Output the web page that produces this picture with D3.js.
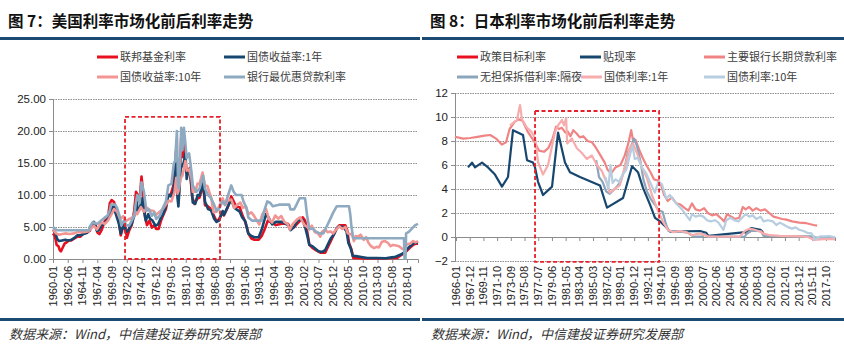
<!DOCTYPE html>
<html><head><meta charset="utf-8">
<script src="https://cdn.jsdelivr.net/npm/d3@7"></script>
<style>body{margin:0;background:#fff}svg{display:block}</style>
</head><body>
<svg id="c" width="844" height="348"></svg>
<script>
// ---------------- DATA ----------------
const usTickLabels = ["1960-01","1962-06","1964-11","1967-04","1969-09","1972-02","1974-07","1976-12","1979-05","1981-10","1984-03","1986-08","1989-01","1991-06","1993-11","1996-04","1998-09","2001-02","2003-07","2005-12","2008-05","2010-10","2013-03","2015-08","2018-01"];
const usYTicks = [0,5,10,15,20,25];
const usSeriesNames = ["联邦基金利率","国债收益率:1年","国债收益率:10年","银行最优惠贷款利率"];
const usFedFunds = [[1960.0,4.0],[1960.3,3.6],[1960.6,2.2],[1960.9,2.0],[1961.1,1.4],[1961.3,1.2],[1961.5,1.6],[1961.7,2.0],[1961.9,2.4],[1962.2,2.6],[1962.6,2.9],[1963.0,2.9],[1963.5,3.2],[1964.0,3.5],[1964.5,3.5],[1965.0,4.0],[1965.5,4.1],[1966.0,4.4],[1966.5,5.4],[1966.9,5.6],[1967.3,4.1],[1967.6,3.9],[1968.0,4.6],[1968.5,6.0],[1969.0,6.3],[1969.3,8.7],[1969.6,9.2],[1970.0,8.9],[1970.4,7.6],[1970.8,5.8],[1971.1,3.7],[1971.5,5.0],[1971.8,5.5],[1972.1,3.3],[1972.5,4.5],[1972.9,5.3],[1973.3,7.5],[1973.6,10.5],[1973.9,10.0],[1974.2,9.0],[1974.5,12.9],[1974.8,10.0],[1975.1,6.5],[1975.4,5.3],[1975.8,6.0],[1976.2,4.9],[1976.6,5.3],[1976.9,4.7],[1977.3,4.7],[1977.7,6.0],[1978.0,6.7],[1978.5,7.8],[1978.9,10.0],[1979.3,10.1],[1979.7,11.4],[1979.9,13.8],[1980.2,17.2],[1980.4,11.0],[1980.55,9.0],[1980.8,13.0],[1981.0,19.0],[1981.3,15.9],[1981.5,19.1],[1981.8,14.0],[1982.0,13.2],[1982.4,14.2],[1982.8,9.7],[1983.2,8.6],[1983.6,9.4],[1984.0,9.6],[1984.6,11.6],[1984.9,8.4],[1985.3,8.3],[1985.8,7.9],[1986.3,6.9],[1986.8,5.9],[1987.2,6.2],[1987.7,7.2],[1988.0,6.8],[1988.6,8.0],[1989.2,9.8],[1989.6,9.0],[1990.0,8.2],[1990.6,8.1],[1991.0,6.9],[1991.5,5.8],[1992.0,4.0],[1992.5,3.2],[1993.0,3.0],[1993.7,3.0],[1994.2,3.6],[1994.7,4.7],[1995.2,6.0],[1995.8,5.7],[1996.5,5.3],[1997.5,5.5],[1998.5,5.5],[1998.9,4.8],[1999.5,5.0],[2000.0,5.5],[2000.5,6.0],[2000.9,6.5],[2001.3,6.0],[2001.7,4.0],[2002.0,2.2],[2002.5,1.75],[2003.2,1.3],[2003.8,1.0],[2004.6,1.0],[2005.0,1.8],[2005.5,2.8],[2006.0,3.8],[2006.5,4.8],[2006.9,5.25],[2007.9,5.25],[2008.2,4.5],[2008.5,2.5],[2008.9,1.5],[2009.2,0.15],[2011.0,0.1],[2013.0,0.1],[2015.0,0.12],[2016.4,0.15],[2016.7,0.4],[2017.1,0.65],[2017.5,0.9],[2018.0,1.3],[2018.5,1.8],[2019.0,2.2],[2019.5,2.4],[2019.8,2.4]];
const usTreasury1Y = [[1960.0,4.6],[1960.4,4.0],[1960.7,3.1],[1961.0,2.8],[1961.5,2.9],[1962.0,3.0],[1962.5,2.9],[1963.0,3.0],[1963.5,3.3],[1964.0,3.7],[1964.5,3.7],[1965.0,3.9],[1965.6,4.1],[1966.0,4.7],[1966.7,5.8],[1967.2,4.4],[1967.5,4.5],[1968.0,5.3],[1968.5,5.6],[1969.0,6.2],[1969.5,7.6],[1969.9,8.2],[1970.3,7.0],[1970.8,5.5],[1971.1,4.0],[1971.6,5.5],[1971.9,4.4],[1972.2,4.3],[1972.6,5.0],[1972.9,5.5],[1973.4,7.0],[1973.7,9.0],[1973.9,7.6],[1974.2,7.8],[1974.6,9.5],[1974.9,7.5],[1975.2,6.0],[1975.6,7.0],[1975.9,6.3],[1976.3,6.0],[1976.8,5.2],[1977.2,5.4],[1977.7,6.5],[1978.0,6.9],[1978.5,8.2],[1978.9,10.0],[1979.3,9.8],[1979.7,10.5],[1979.9,12.0],[1980.2,15.8],[1980.4,9.5],[1980.55,8.2],[1980.9,14.0],[1981.1,14.5],[1981.4,15.0],[1981.7,16.5],[1981.9,12.5],[1982.2,14.0],[1982.5,13.5],[1982.9,8.8],[1983.3,8.6],[1983.7,10.0],[1984.0,9.9],[1984.6,12.0],[1984.9,9.0],[1985.4,7.8],[1985.9,7.6],[1986.4,6.3],[1986.8,5.8],[1987.2,6.0],[1987.8,7.5],[1988.0,6.9],[1988.6,8.1],[1989.2,9.3],[1989.7,8.0],[1990.0,7.8],[1990.6,7.4],[1991.0,6.5],[1991.5,5.9],[1992.0,4.0],[1992.5,3.6],[1993.0,3.4],[1993.7,3.4],[1994.2,4.6],[1994.9,7.0],[1995.3,6.5],[1995.9,5.4],[1996.5,5.8],[1997.5,5.8],[1998.5,5.3],[1998.9,4.5],[1999.5,5.0],[2000.0,5.9],[2000.5,6.2],[2000.9,6.1],[2001.3,5.0],[2001.7,3.5],[2002.0,2.2],[2002.5,2.0],[2003.0,1.6],[2003.5,1.2],[2004.1,1.1],[2004.6,1.4],[2005.0,2.2],[2005.5,3.2],[2006.0,3.8],[2006.5,4.8],[2006.9,5.1],[2007.6,5.0],[2008.1,4.3],[2008.4,2.5],[2008.8,1.6],[2009.1,0.5],[2009.6,0.45],[2010.5,0.3],[2011.5,0.15],[2013.0,0.15],[2014.5,0.12],[2015.5,0.25],[2016.0,0.3],[2016.6,0.55],[2017.0,0.7],[2017.5,1.0],[2018.0,1.5],[2018.5,2.0],[2019.0,2.4],[2019.5,2.6],[2019.8,2.5]];
const usTreasury10Y = [[1960.0,4.6],[1960.5,4.0],[1961.0,3.8],[1961.5,3.9],[1962.0,4.0],[1962.7,3.9],[1963.5,4.0],[1964.0,4.2],[1965.0,4.2],[1965.7,4.3],[1966.2,4.7],[1966.7,5.2],[1967.2,4.6],[1967.9,5.7],[1968.5,5.5],[1969.0,6.0],[1969.6,7.0],[1970.0,7.8],[1970.5,7.4],[1971.0,6.2],[1971.5,6.7],[1971.9,5.9],[1972.4,6.2],[1972.9,6.4],[1973.5,7.1],[1973.8,7.0],[1974.4,8.1],[1974.9,7.4],[1975.4,8.0],[1975.9,7.6],[1976.5,7.5],[1976.9,6.9],[1977.5,7.4],[1977.9,7.7],[1978.5,8.5],[1978.9,9.1],[1979.4,9.0],[1979.9,10.4],[1980.2,12.7],[1980.4,10.2],[1980.6,10.8],[1980.9,12.6],[1981.2,13.0],[1981.7,15.3],[1981.9,13.8],[1982.3,14.0],[1982.7,12.5],[1982.9,10.5],[1983.3,10.5],[1983.7,11.8],[1984.0,11.7],[1984.5,13.5],[1984.9,11.5],[1985.3,11.4],[1985.9,9.6],[1986.3,7.3],[1986.8,7.4],[1987.3,8.4],[1987.8,9.5],[1988.2,8.4],[1988.6,9.1],[1989.2,9.3],[1989.7,8.0],[1990.2,8.5],[1990.7,8.8],[1991.1,8.0],[1991.6,8.2],[1992.0,7.0],[1992.5,7.3],[1992.9,6.8],[1993.4,6.0],[1993.8,5.4],[1994.3,7.0],[1994.9,7.8],[1995.4,6.2],[1995.9,5.7],[1996.4,6.8],[1996.9,6.3],[1997.4,6.7],[1997.9,5.8],[1998.4,5.5],[1998.8,4.6],[1999.3,5.5],[2000.0,6.2],[2000.5,6.5],[2000.9,5.8],[2001.3,5.2],[2001.7,5.0],[2002.0,4.6],[2002.4,5.2],[2002.9,4.2],[2003.4,4.0],[2003.8,3.5],[2004.1,4.3],[2004.6,4.6],[2005.0,4.2],[2005.5,4.3],[2005.9,4.0],[2006.4,4.6],[2006.9,5.1],[2007.4,4.7],[2007.9,5.0],[2008.3,4.0],[2008.7,3.9],[2009.0,3.8],[2009.3,2.8],[2009.6,3.6],[2010.0,3.5],[2010.4,3.8],[2010.9,3.0],[2011.3,3.4],[2011.7,2.5],[2012.1,2.0],[2012.6,1.7],[2013.0,1.9],[2013.4,1.8],[2013.9,2.7],[2014.4,2.8],[2014.9,2.5],[2015.3,2.0],[2015.7,2.2],[2016.2,2.1],[2016.7,2.0],[2017.2,1.6],[2017.6,1.5],[2018.0,2.3],[2018.5,2.4],[2019.0,2.8],[2019.4,2.6],[2019.8,2.8]];
const usPrimeRate = [[1960.0,5.0],[1960.6,4.5],[1965.9,4.5],[1966.0,5.0],[1966.5,5.75],[1967.1,5.5],[1967.3,5.5],[1967.9,6.0],[1968.5,6.5],[1968.9,6.75],[1969.3,7.5],[1969.5,8.5],[1970.2,8.5],[1970.5,8.0],[1970.9,6.75],[1971.2,5.25],[1971.6,6.0],[1972.0,5.25],[1972.5,5.25],[1972.9,6.0],[1973.3,6.75],[1973.6,9.0],[1973.8,10.0],[1974.2,8.75],[1974.5,12.0],[1974.9,10.5],[1975.3,7.5],[1975.7,7.75],[1976.2,6.75],[1976.6,7.25],[1976.9,6.25],[1977.5,6.75],[1977.9,7.75],[1978.5,9.0],[1978.9,11.5],[1979.4,11.75],[1979.8,15.0],[1980.0,15.25],[1980.3,20.0],[1980.5,11.5],[1980.6,11.0],[1980.9,17.0],[1981.0,20.5],[1981.2,17.0],[1981.45,20.5],[1981.7,18.0],[1981.9,15.75],[1982.3,16.5],[1982.7,13.5],[1982.9,11.5],[1983.5,10.5],[1984.0,11.0],[1984.6,13.0],[1984.9,11.0],[1985.4,10.0],[1985.9,9.5],[1986.4,8.5],[1986.8,7.5],[1987.3,8.0],[1987.8,9.0],[1988.2,8.5],[1988.7,10.0],[1989.2,11.5],[1989.6,10.5],[1990.0,10.0],[1990.9,10.0],[1991.2,9.0],[1991.7,8.0],[1992.0,6.5],[1992.6,6.0],[1994.2,6.0],[1994.6,7.5],[1995.1,9.0],[1995.6,8.75],[1996.0,8.25],[1997.2,8.5],[1998.7,8.5],[1998.9,7.75],[1999.5,7.75],[1999.9,8.5],[2000.4,9.5],[2001.3,9.5],[2001.6,7.0],[2002.0,4.75],[2002.6,4.75],[2003.1,4.25],[2003.7,4.0],[2004.3,4.0],[2004.8,5.0],[2005.3,6.0],[2005.9,7.25],[2006.5,8.25],[2008.5,8.25],[2008.7,7.0],[2008.9,5.0],[2009.2,3.25],[2017.5,3.25],[2017.6,0.1],[2017.75,0.1],[2017.85,4.0],[2018.3,4.25],[2018.8,4.75],[2019.3,5.25],[2019.8,5.5]];
const usBoxYears = [1971.8, 1987.36];
const usBoxRates = [0, 22.2];

const jpTickLabels = ["1966-01","1967-12","1969-11","1971-10","1973-09","1975-08","1977-07","1979-06","1981-05","1983-04","1985-03","1987-02","1989-01","1990-12","1992-11","1994-10","1996-09","1998-08","2000-07","2002-06","2004-05","2006-04","2008-03","2010-02","2012-01","2013-12","2015-11","2017-10"];
const jpYTicks = [-2,0,2,4,6,8,10,12];
const jpSeriesNames = ["政策目标利率","贴现率","主要银行长期贷款利率","无担保拆借利率:隔夜","国债利率:1年","国债利率:10年"];
const jpPolicyRate = [[2006.5,0.25],[2007.2,0.5],[2008.8,0.5],[2008.95,0.3],[2009.1,0.1]];
const jpDiscountRate = [[1967.68,5.8],[1968.24,6.2],[1968.66,5.8],[1969.64,6.2],[1970.48,5.8],[1971.45,5.2],[1972.43,4.2],[1973.27,5.0],[1973.97,8.9],[1975.37,8.5],[1975.93,6.4],[1976.77,6.2],[1977.05,5.8],[1977.47,4.6],[1978.17,3.5],[1979.43,4.2],[1980.27,8.7],[1981.24,6.2],[1981.94,5.4],[1983.34,5.0],[1986.14,4.3],[1986.56,3.5],[1987.12,2.45],[1989.36,3.25],[1990.62,5.9],[1991.45,5.4],[1992.15,4.1],[1993.13,2.7],[1993.83,1.6],[1994.53,1.3],[1995.51,0.75],[1995.93,0.45],[2000.13,0.5],[2001.0,0.35],[2001.3,0.1],[2006.5,0.4],[2007.3,0.75],[2008.6,0.6],[2008.9,0.3]];
const jpLongPrimeRate = [[1965.86,8.35],[1967.0,8.2],[1968.0,8.25],[1969.0,8.35],[1970.0,8.45],[1970.8,8.5],[1971.6,8.2],[1972.4,7.7],[1973.0,7.9],[1973.5,9.0],[1974.2,9.6],[1974.8,9.8],[1975.3,9.7],[1976.0,8.8],[1977.0,7.9],[1977.6,7.2],[1978.3,7.1],[1978.9,7.4],[1979.5,8.2],[1980.0,9.2],[1980.4,9.0],[1980.8,9.1],[1981.3,8.7],[1981.6,8.8],[1982.0,8.4],[1982.4,8.9],[1982.9,8.6],[1983.3,8.3],[1983.8,8.4],[1984.4,8.0],[1985.0,7.9],[1985.5,7.5],[1986.2,6.8],[1986.8,6.2],[1987.2,5.6],[1987.7,5.3],[1988.3,5.8],[1989.0,6.0],[1989.6,6.8],[1990.1,7.8],[1990.5,8.9],[1990.8,7.9],[1991.1,8.1],[1991.6,7.3],[1992.1,6.6],[1992.6,6.0],[1993.2,5.4],[1993.7,4.8],[1994.3,4.7],[1994.7,4.3],[1995.1,3.5],[1995.6,3.0],[1996.2,3.3],[1996.8,2.8],[1997.4,2.7],[1998.0,2.4],[1998.5,2.2],[1999.0,2.8],[1999.5,2.3],[2000.1,2.2],[2000.7,2.4],[2001.2,2.0],[2001.8,1.8],[2002.4,1.9],[2003.0,1.6],[2003.5,1.3],[2003.9,1.9],[2004.5,1.7],[2005.0,1.5],[2005.6,1.6],[2006.1,2.5],[2006.5,2.3],[2007.0,2.5],[2007.5,2.2],[2008.0,2.4],[2008.6,2.2],[2009.2,2.3],[2009.8,2.0],[2010.4,1.7],[2011.0,1.6],[2011.6,1.5],[2012.2,1.45],[2013.0,1.3],[2014.0,1.2],[2015.0,1.15],[2016.0,1.0],[2016.5,0.95]];
const jpCallRate = [[1985.6,6.4],[1986.0,5.0],[1986.5,4.6],[1987.0,3.8],[1987.5,3.6],[1988.0,3.9],[1988.5,4.2],[1989.0,4.6],[1989.5,5.5],[1990.0,7.0],[1990.5,7.6],[1990.9,8.2],[1991.3,7.6],[1991.8,6.3],[1992.2,4.8],[1992.7,3.8],[1993.2,3.2],[1993.8,2.7],[1994.4,2.2],[1994.9,2.1],[1995.3,1.2],[1995.7,0.5],[1996.5,0.45],[1997.5,0.45],[1998.5,0.35],[1999.2,0.03],[2000.5,0.03],[2000.7,0.25],[2001.2,0.05],[2006.4,0.02],[2006.6,0.25],[2007.2,0.5],[2008.7,0.5],[2008.9,0.2],[2009.0,0.1],[2016.0,0.05],[2016.2,-0.05],[2019.0,-0.06]];
const jpBond1Y = [[1973.55,9.3],[1974.53,9.75],[1974.95,11.0],[1975.23,9.8],[1975.93,9.1],[1976.5,8.8],[1977.05,8.25],[1977.47,6.25],[1978.17,5.2],[1978.87,6.0],[1979.85,8.75],[1980.27,9.3],[1980.83,9.75],[1981.1,9.3],[1981.4,9.9],[1981.55,7.8],[1982.2,8.2],[1982.9,7.4],[1983.6,7.0],[1984.3,6.5],[1985.0,6.8],[1985.7,6.0],[1986.4,5.5],[1987.1,4.5],[1987.5,3.7],[1988.2,4.0],[1988.9,4.3],[1989.6,5.8],[1990.3,7.4],[1990.75,7.8],[1991.3,7.0],[1992.0,5.8],[1992.7,4.9],[1993.4,3.5],[1994.1,2.4],[1994.95,1.25],[1995.65,0.6],[1996.4,0.4],[1997.3,0.5],[1998.2,0.4],[1999.0,0.15],[2000.1,0.3],[2001.2,0.05],[2002.9,0.02],[2005.7,0.05],[2006.4,0.5],[2007.1,0.7],[2007.8,0.6],[2008.5,0.45],[2008.9,0.3],[2009.9,0.15],[2011.3,0.1],[2014.1,0.05],[2015.2,0.0],[2016.1,-0.25],[2016.9,-0.2],[2018.3,-0.15],[2019.0,-0.2]];
const jpBond10Y = [[1986.9,5.0],[1987.3,4.0],[1987.6,6.0],[1987.9,4.5],[1988.3,4.8],[1988.8,4.6],[1989.3,5.2],[1989.8,5.6],[1990.4,7.0],[1990.7,7.6],[1991.0,6.5],[1991.4,6.6],[1992.0,5.8],[1992.6,5.3],[1993.2,4.5],[1993.8,3.7],[1994.3,4.6],[1994.8,4.4],[1995.4,3.2],[1995.9,3.5],[1996.5,3.0],[1997.1,2.6],[1997.6,2.3],[1998.2,1.8],[1998.7,1.4],[1999.0,1.9],[1999.5,1.7],[2000.1,1.8],[2000.6,1.7],[2001.1,1.4],[2001.6,1.3],[2002.2,1.4],[2002.7,1.2],[2003.4,0.6],[2003.8,1.4],[2004.4,1.6],[2004.9,1.4],[2005.5,1.3],[2006.0,1.6],[2006.5,1.9],[2007.0,1.7],[2007.5,1.8],[2008.0,1.5],[2008.6,1.7],[2009.0,1.3],[2009.6,1.4],[2010.3,1.3],[2010.8,1.0],[2011.3,1.2],[2011.9,1.0],[2012.5,0.8],[2013.0,0.7],[2013.5,0.8],[2014.0,0.6],[2014.6,0.5],[2015.1,0.35],[2015.7,0.3],[2016.2,-0.2],[2016.5,-0.1],[2016.9,0.05],[2017.5,0.05],[2018.2,0.08],[2018.8,0.0],[2019.0,-0.1]];
const jpBoxYears = [1977.05, 1994.4];
const jpBoxRates = [-2.08, 10.5];

// ---------------- DRAW ----------------
const svg = d3.select('#c');
const NUM_FONT = '"Liberation Sans", Arial, sans-serif';
const CJK_FONT = '"Noto Sans CJK SC", "Noto Sans", sans-serif';
const ruleColor = '#1b4a72';

function labelYear(s){ const [y,m] = s.split('-').map(Number); return y + (m-1)/12; }

function drawPanel(p){
  const g = svg.append('g');
  // title
  g.append('text').attr('x', p.titleX).attr('y', 27).text(p.title)
    .attr('font-family', CJK_FONT).attr('font-weight', 700).attr('font-size', 15.5).attr('fill', '#111');
  g.append('rect').attr('x', p.ruleX0).attr('y', 37).attr('width', p.ruleX1 - p.ruleX0).attr('height', 3).attr('fill', ruleColor);
  g.append('rect').attr('x', p.ruleX0).attr('y', 318).attr('width', p.ruleX1 - p.ruleX0).attr('height', 3).attr('fill', ruleColor);
  g.append('text').attr('x', p.titleX + 1).attr('y', 339).text('数据来源：Wind，中信建投证券研究发展部')
    .attr('font-family', CJK_FONT).attr('font-style', 'italic').attr('font-size', 13).attr('fill', '#333');

  const x = d3.scaleLinear().domain(p.xDomain).range(p.xRange);
  const y = d3.scaleLinear().domain(p.yDomain).range(p.yRange);

  // gridlines
  g.append('g').selectAll('line').data(p.yTicks.filter(d => d !== 0)).join('line')
    .attr('x1', p.xRange[0]).attr('x2', p.xRange[1])
    .attr('y1', d => y(d) + 0.5).attr('y2', d => y(d) + 0.5)
    .attr('stroke', '#8c8c8c').attr('stroke-width', 1).attr('stroke-dasharray', '1.5,1');

  // y axis
  const ya = g.append('g').attr('transform', `translate(${p.xRange[0]},0)`)
    .call(d3.axisLeft(y).tickValues(p.yTicks).tickSize(4).tickPadding(3).tickFormat(p.yFormat));
  ya.select('.domain').attr('stroke', '#8c8c8c');
  ya.selectAll('.tick line').attr('stroke', '#8c8c8c');
  ya.selectAll('text').attr('font-family', NUM_FONT).attr('font-size', 11.5).attr('fill', '#222');

  // x axis
  const tickYears = p.tickLabels.map(labelYear);
  const xa = g.append('g').attr('transform', `translate(0,${y(0)})`)
    .call(d3.axisBottom(x).tickValues(tickYears).tickSize(4).tickFormat(''));
  xa.select('.domain').attr('stroke', '#8c8c8c');
  xa.selectAll('.tick line').attr('stroke', '#8c8c8c');

  g.append('g').selectAll('text').data(p.tickLabels).join('text')
    .attr('transform', d => `translate(${x(labelYear(d))},${p.labelTop}) rotate(-90)`)
    .attr('text-anchor', 'end').attr('dy', '0.35em')
    .attr('font-family', NUM_FONT).attr('font-size', 11).attr('fill', '#222')
    .text(d => d);

  // series
  const line = d3.line().x(d => x(d[0])).y(d => y(d[1]));
  p.series.forEach(s => {
    g.append('path').datum(s.data).attr('d', line)
      .attr('fill', 'none').attr('stroke', s.color).attr('stroke-width', s.width)
      .attr('stroke-linejoin', 'round');
  });

  // dashed box
  g.append('rect')
    .attr('x', x(p.boxYears[0])).attr('y', y(p.boxRates[1]))
    .attr('width', x(p.boxYears[1]) - x(p.boxYears[0]))
    .attr('height', y(p.boxRates[0]) - y(p.boxRates[1]))
    .attr('fill', 'none').attr('stroke', '#e5202a').attr('stroke-width', 1.8).attr('stroke-dasharray', '4,2.5');

  // legend
  p.legend.forEach((L, i) => {
    const s = p.series[L.idx];
    g.append('line').attr('x1', L.x).attr('x2', L.x + 21).attr('y1', L.y).attr('y2', L.y)
      .attr('stroke', s.color).attr('stroke-width', 3);
    g.append('text').attr('x', L.x + 23).attr('y', L.y).attr('dy', '0.36em')
      .attr('font-family', CJK_FONT).attr('font-size', 11).attr('fill', '#404040').text(p.names[L.idx]);
  });
}

drawPanel({
  title: '图 7：美国利率市场化前后利率走势', titleX: 8, ruleX0: 0, ruleX1: 420,
  xDomain: [1960, 2019.8], xRange: [53, 418],
  yDomain: [0, 25], yRange: [259, 99], yTicks: usYTicks, yFormat: d3.format('.2f'),
  tickLabels: usTickLabels, labelTop: 266,
  names: usSeriesNames,
  series: [
    {data: usFedFunds, color: '#e8101e', width: 2.6},
    {data: usTreasury1Y, color: '#17476f', width: 2.6},
    {data: usTreasury10Y, color: '#f29593', width: 2.6},
    {data: usPrimeRate, color: '#8eaac1', width: 2.6}
  ],
  boxYears: usBoxYears, boxRates: usBoxRates,
  legend: [ {idx:0, x:97, y:57}, {idx:1, x:224, y:57}, {idx:2, x:97, y:77}, {idx:3, x:224, y:77} ]
});

drawPanel({
  title: '图 8：日本利率市场化前后利率走势', titleX: 430, ruleX0: 422, ruleX1: 844,
  xDomain: [1965.86, 2019.0], xRange: [455, 835],
  yDomain: [-2, 12], yRange: [261, 93], yTicks: jpYTicks, yFormat: d3.format('d'),
  tickLabels: jpTickLabels, labelTop: 266,
  names: jpSeriesNames,
  series: [
    {data: jpPolicyRate, color: '#e8101e', width: 2.2},
    {data: jpDiscountRate, color: '#17476f', width: 2.2},
    {data: jpLongPrimeRate, color: '#f08484', width: 2.2},
    {data: jpCallRate, color: '#8ba6bb', width: 2.2},
    {data: jpBond1Y, color: '#f7adad', width: 2.2},
    {data: jpBond10Y, color: '#b7cde0', width: 2.2}
  ],
  boxYears: jpBoxYears, boxRates: jpBoxRates,
  legend: [ {idx:0, x:457, y:57}, {idx:1, x:580, y:57}, {idx:2, x:704, y:57},
            {idx:3, x:457, y:77}, {idx:4, x:581, y:77}, {idx:5, x:704, y:77} ]
});
</script>
</body></html>
